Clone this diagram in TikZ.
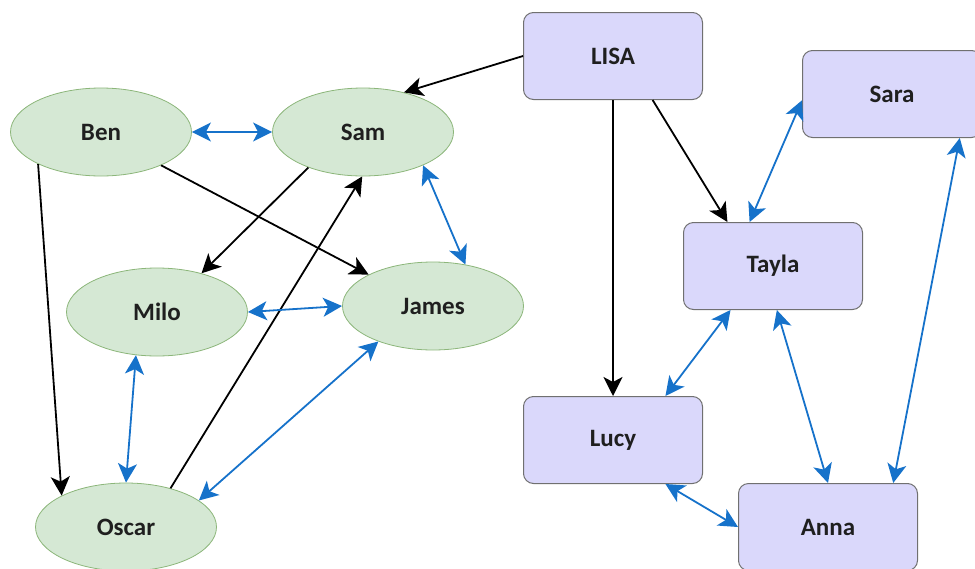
\documentclass[tikz,border=0pt]{standalone}
\usepackage{fontspec}
\setmainfont{Carlito}
\usepackage{tikz}
\usetikzlibrary{shapes.geometric}
\usetikzlibrary{arrows.meta}
\definecolor{leaf}{RGB}{213,232,212}
\definecolor{leafline}{RGB}{140,182,122}
\definecolor{lilac}{RGB}{218,216,251}
\definecolor{boxline}{RGB}{112,112,112}
\definecolor{pal}{RGB}{22,114,202}

\begin{document}
\begin{tikzpicture}[x=1pt,y=-1pt,
  kid/.style={ellipse,draw=leafline,fill=leaf,line width=0.8pt,minimum width=181pt,minimum height=88pt,inner sep=0pt,font=\fontsize{25}{30}\selectfont\bfseries,text=black!88},
  grown/.style={rectangle,rounded corners=10pt,draw=boxline,fill=lilac,line width=1pt,minimum width=179pt,minimum height=87pt,inner sep=0pt,font=\fontsize{25}{30}\selectfont\bfseries,text=black!88},
  boss/.style={line width=1.8pt,-{Stealth[length=19pt,width=19pt,inset=5pt]}},
  mate/.style={color=pal,line width=1.8pt,{Stealth[length=19pt,width=19pt,inset=5pt]}-{Stealth[length=19pt,width=19pt,inset=5pt]}}]
  \useasboundingbox (0,0) rectangle (975,568);
  \node[kid] (ben) at (101,132) {Ben};
  \node[kid] (sam) at (363,132) {Sam};
  \node[kid] (milo) at (157,312) {Milo};
  \node[kid] (james) at (433,306) {James};
  \node[kid] (oscar) at (126,527) {Oscar};
  \node[grown] (lisa) at (613,56) {LISA};
  \node[grown] (sara) at (892,94) {Sara};
  \node[grown] (tayla) at (773,266) {Tayla};
  \node[grown] (lucy) at (613,440) {Lucy};
  \node[grown] (anna) at (828,527) {Anna};
  \draw[boss](lisa.west)--(sam.44);
  \draw[boss](lisa.south)--(lucy.north);
  \draw[boss](lisa.-48)--(tayla.136);
  \draw[boss](ben.207)--(oscar.154);
  \draw[boss](ben.-29)--(james.154);
  \draw[boss](sam.213)--(milo.41);
  \draw[boss](oscar.41)--(sam.-91);
  \draw[mate](ben.east)--(sam.west);
  \draw[mate](sam.-29)--(james.52);
  \draw[mate](milo.east)--(james.west);
  \draw[mate](milo.244)--(oscar.north);
  \draw[mate](oscar.20)--(james.-147);
  \draw[mate](sara.184)--(tayla.118);
  \draw[mate](sara.-33)--(anna.34);
  \draw[mate](tayla.226)--(lucy.40);
  \draw[mate](tayla.-85)--(anna.north);
  \draw[mate](lucy.-40)--(anna.west);
\end{tikzpicture}
\end{document}
